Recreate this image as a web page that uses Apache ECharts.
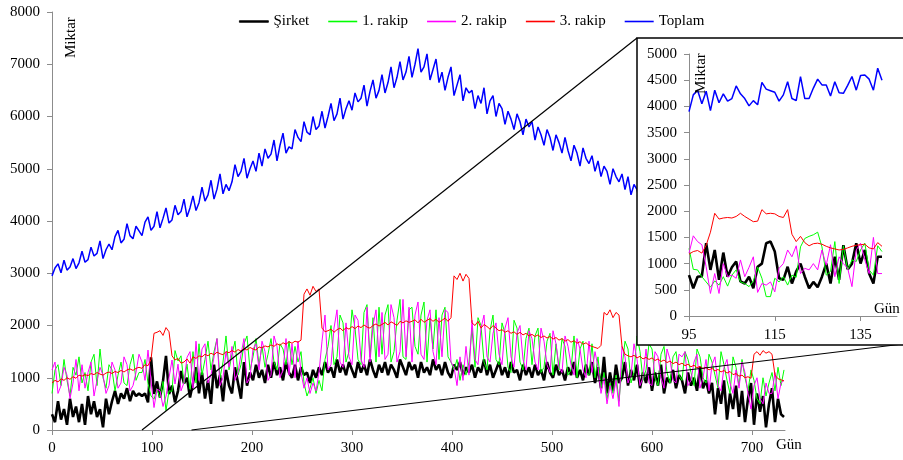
<!DOCTYPE html>
<html><head><meta charset="utf-8">
<script src="https://cdn.jsdelivr.net/npm/echarts@6/dist/echarts.min.js"></script>
<style>html,body{margin:0;padding:0;background:#fff}#c{width:903px;height:460px}</style>
</head><body><div id="c"></div>
<script>
// ---------- names ----------
const seriesNames = ['Şirket', '1. rakip', '2. rakip', '3. rakip', 'Toplam'];
const axisNameY = 'Miktar';
const axisNameX = 'Gün';

// ---------- main chart: one value every 3 days, day 0 .. 732 ----------
const mainStartDay = 0;
const mainStepDays = 3;

const sirket = [
 300,150,550,200,400,100,600,250,450,150,
 500,100,650,300,550,250,400,50,600,300,
 550,750,500,700,600,800,550,750,650,700,
 650,700,530,1390,690,930,620,940,1420,690,
 850,530,750,1130,890,1000,620,900,1200,700,
 1100,600,950,500,1250,800,1050,550,1150,850,
 700,1200,900,600,1300,850,1100,950,1250,1000,
 1150,900,1250,1000,1300,1050,1200,950,1300,1100,
 1000,1250,950,1200,1050,1100,900,1150,1000,1200,
 1050,1300,1100,1200,1000,1350,1100,1250,1050,1300,
 1150,1000,1300,1100,1250,1050,1350,1150,1000,1250,
 1100,1300,1050,1250,1150,1000,1350,1200,1050,1300,
 1150,1250,1000,1300,1100,1200,1050,1350,1150,1250,
 1050,1300,1100,1000,1250,1150,1300,1050,1200,1100,
 1250,1000,1200,1100,1350,1050,1250,1000,1150,1300,
 1050,1200,1000,1300,1100,1150,950,1250,1050,1200,
 1000,1250,1050,1150,950,1300,1100,1000,1250,1050,
 1150,950,1200,1050,1300,1000,1150,950,1250,1050,
 1300,900,1200,800,1400,700,1100,750,1250,900,
 1000,1300,850,1150,950,1250,800,1100,900,1200,
 750,1100,850,1250,700,1000,900,1150,800,1050,
 950,700,1100,850,1000,750,1200,800,950,700,
 900,300,800,500,950,200,700,400,850,250,
 750,150,600,900,100,700,350,650,50,500,
 800,150,600,300,250
];
const rakip1 = [
 700,1150,1250,850,1350,950,650,1200,1050,1400,
 900,1100,750,1300,1450,850,1550,1000,800,1250,
 1150,750,1050,1300,900,850,1250,1450,950,1100,
 1100,1350,890,650,590,780,620,930,370,750,
 740,1520,1320,1420,880,1260,780,1500,900,1650,
 1050,1350,1700,1150,1500,1750,1000,1300,1800,1150,
 1450,1700,1050,1250,1650,1800,1150,1400,1750,1250,
 1600,1200,1450,1750,1300,1150,1650,1550,1250,1700,
 1250,1600,1300,1500,900,650,800,1000,700,950,
 750,1350,1600,2000,1250,1400,2200,2050,1300,1500,
 2300,1950,1350,1250,2250,2400,1400,2150,1300,2350,
 1450,2200,2400,1300,1500,2100,2500,1400,1350,2300,
 2350,1600,1450,2200,2450,1300,2150,1550,2300,1350,
 2200,2350,1400,1300,1150,1350,950,1250,1050,1300,
 1950,1200,2150,2000,1300,1150,1900,2200,1350,1250,
 2050,1850,1200,1100,2100,1950,1300,1150,1750,1950,
 1250,1800,1950,1100,1200,1700,1850,1050,1650,1150,
 1750,1600,1050,1150,1800,1000,1550,1700,1100,1050,
 1650,1000,1400,800,1100,600,900,700,1050,550,
 1200,1700,1550,900,1100,1800,1500,950,1150,1650,
 1550,1000,850,1450,1600,1100,900,1400,1500,1050,
 950,1500,1350,1100,850,1550,1400,1000,900,1450,
 1300,1050,800,1500,1250,950,700,1400,1200,850,
 1350,1000,750,1150,950,600,500,1000,650,900,
 1100,750,1200,850,1150
];
const rakip2 = [
 1150,1300,700,850,1200,1050,600,900,1350,750,
 1250,800,1100,1300,650,950,1200,1050,700,850,
 1300,1150,800,900,1400,1250,750,850,1100,1450,
 1300,950,1530,940,430,780,750,450,650,1000,
 1340,880,1260,750,910,1390,1500,800,1700,950,
 1550,1650,900,1050,1400,1750,850,1000,1500,1200,
 1600,950,1100,1450,1750,900,1000,1550,1650,1150,
 1700,1500,950,1050,1800,1600,1000,1150,1750,1050,
 1650,1000,1700,1100,800,1000,700,900,750,1100,
 1700,2200,1150,1250,1950,2300,1300,1200,2050,1400,
 1250,2200,2100,1350,1200,2350,1300,2000,2300,1400,
 2250,1350,1450,2400,2150,1300,1500,2500,1400,2350,
 1300,2200,2450,1450,1350,2100,2300,1500,1250,2150,
 1400,2300,2250,1300,1200,850,1400,950,1600,1050,
 2100,1350,1250,1950,2200,1400,1300,1850,2050,1450,
 1250,1950,2150,1400,1200,1850,2000,1350,1150,1900,
 1750,1300,1150,1950,1700,1250,1100,1900,1650,1200,
 1100,1800,1600,1250,1050,1750,1550,1150,1000,1700,
 1100,1500,1200,700,1000,500,850,600,950,450,
 1600,1400,900,1050,1650,1350,850,1000,1550,900,
 850,1500,1400,1000,800,1550,1350,950,900,1450,
 1400,1500,850,950,1300,1450,800,1000,1350,750,
 1250,1400,850,750,1200,1350,900,700,1150,800,
 1300,1100,700,400,850,1000,600,500,900,700,
 700,1100,600,900,950
];
const rakip3 = [
 900,950,920,980,950,1000,970,1020,990,1050,
 1030,1060,1040,1080,1060,1100,1070,1050,1090,1110,
 1080,1120,1100,1140,1110,1150,1170,1140,1180,1200,
 1180,1250,1230,1350,1850,1870,1900,1810,1960,1880,
 1420,1340,1370,1280,1300,1360,1280,1400,1370,1420,
 1400,1450,1420,1470,1440,1490,1460,1440,1500,1480,
 1520,1490,1540,1510,1560,1530,1580,1550,1530,1590,
 1570,1610,1590,1630,1600,1650,1620,1670,1640,1690,
 1660,1700,1680,1720,2600,2700,2580,2750,2650,2700,
 1950,1880,1900,1930,1870,1920,1950,1900,1960,1930,
 1980,1940,1990,1960,2010,1970,1950,2000,2030,1990,
 2020,2060,2010,2070,2040,2000,2080,2050,2090,2060,
 2080,2110,2050,2120,2060,2100,2130,2080,2120,2060,
 2100,2140,2080,2150,2950,2880,3000,2850,2980,2900,
 2050,2000,2080,1950,2020,1980,1930,2000,1950,1900,
 1920,1870,1900,1850,1880,1830,1870,1820,1850,1800,
 1830,1790,1820,1770,1800,1760,1790,1740,1770,1720,
 1750,1700,1730,1680,1710,1660,1690,1640,1670,1620,
 1600,1580,1560,1620,2250,2200,2300,2150,2250,2200,
 1600,1450,1420,1400,1430,1380,1410,1360,1390,1350,
 1380,1330,1360,1310,1340,1290,1320,1270,1300,1250,
 1280,1230,1260,1210,1240,1190,1220,1170,1200,1150,
 1180,1130,1160,1110,1140,1090,1120,1060,1080,1030,
 1050,1000,1020,990,1450,1500,1430,1520,1470,1500,
 1450,1050,980,960,940
];
const toplam = [
 2950,3100,3180,3010,3250,3060,3120,3280,3090,3200,
 3420,3210,3260,3500,3330,3380,3620,3280,3450,3560,
 3450,3700,3820,3580,3650,3950,3720,3660,3900,3810,
 3720,3980,4080,3820,3900,4180,3870,4050,4250,3960,
 4020,4300,4120,4180,4420,4080,4250,4480,4200,4350,
 4650,4380,4500,4780,4420,4610,4900,4520,4700,4580,
 4750,5080,4850,4950,5200,4820,5000,5150,4950,5300,
 5050,5380,5200,5280,5550,5150,5450,5680,5300,5420,
 5380,5750,5600,5520,5900,5700,5650,6000,5750,5820,
 6100,5780,6000,6250,5920,6050,6350,5950,6150,6300,
 6120,6450,6280,6350,6600,6200,6480,6700,6350,6500,
 6800,6450,6650,6950,6550,6750,7050,6700,6850,7150,
 6750,7000,7300,6850,6950,7200,6700,6900,7100,6650,
 6850,6500,6750,6950,6400,6600,6800,6300,6550,6450,
 6500,6150,6400,6250,6550,6050,6300,6400,6000,6250,
 6150,5850,6100,5950,5750,6050,5900,5650,5950,5800,
 5900,5550,5800,5650,5450,5750,5600,5350,5650,5500,
 5300,5600,5350,5150,5450,5300,5050,5400,5200,5100,
 5250,4950,5150,4850,5050,4950,4700,5000,4850,4750,
 4900,4600,4850,4500,4700,4600,4350,4650,4500,4400,
 4350,4550,4300,4450,4200,4400,4150,4300,4100,4250,
 4050,4250,4000,4150,3950,4100,3850,4050,3800,3950,
 3750,3950,3700,3850,3650,3800,3550,3750,3500,3650,
 3450,3650,3400,3600,3350,3550,3300,3500,3250,3450,
 3200,3400,3150,3350,3100
];

// ---------- inset: daily values, day 95 .. 140 ----------
const insetStartDay = 95;
const insetSirket = [780,530,750,760,1390,880,1260,690,1210,750,930,1040,660,620,750,530,940,1000,1390,1420,1230,720,690,940,620,850,1000,750,530,650,550,750,1000,620,1130,690,1350,890,1000,1390,1000,1260,810,620,1130,1130];
const insetRakip1 = [1290,890,880,750,650,550,670,590,750,570,780,880,650,620,560,670,930,720,370,370,720,650,750,590,780,740,1320,1480,1520,1550,1600,1320,780,850,1420,620,1340,880,1070,1040,1260,1390,880,780,1340,1230];
const insetRakip2 = [1200,1530,1420,1360,940,430,810,430,1000,750,780,720,1070,750,930,1130,450,620,590,650,460,910,1000,1260,1130,1340,810,910,880,1000,880,1260,970,1360,750,1130,1000,910,560,1260,1390,1070,810,1500,810,810];
const insetRakip3 = [1180,1230,1250,1200,1350,1600,1960,1850,1870,1880,1870,1900,1960,1900,1850,1800,1810,2030,1950,1960,1950,1900,1880,2030,1560,1420,1520,1400,1340,1380,1390,1370,1330,1300,1280,1260,1270,1300,1330,1350,1360,1370,1300,1280,1400,1330];
const insetToplam = [3900,4220,4310,4050,4290,3920,4310,4070,4240,4100,4150,4390,4240,4150,4010,4110,4030,4460,4330,4300,4270,4100,4220,4470,4150,4110,4570,4150,4150,4350,4520,4410,4410,4200,4470,4260,4250,4400,4570,4310,4590,4600,4520,4310,4730,4500];

// ---------- ticks ----------
const mainXTicks = [0,100,200,300,400,500,600,700];
const mainYMax = 8000, mainYStep = 1000;
const insetXTicks = [95,115,135];
const insetYMax = 5000, insetYStep = 500;
const zoomFromDay = 90, zoomToDay = 139.5;

// ---------- styles ----------
const F = "'Liberation Serif','Times New Roman',serif";
const colors = ['#000000', '#00ff00', '#ff00ff', '#ff0000', '#0000ff'];
const widths = [2.6, 1, 1, 1, 1.5];
const AX = '#8c8c8c';

function pairs(arr, start, step) { return arr.map((v, i) => [start + i * step, v]); }

const mainData = [sirket, rakip1, rakip2, rakip3, toplam];
const insetData = [insetSirket, insetRakip1, insetRakip2, insetRakip3, insetToplam];

const chart = echarts.init(document.getElementById('c'), null, {renderer: 'canvas'});

const series = [];
mainData.forEach((arr, k) => series.push({
  name: seriesNames[k], type: 'line', xAxisIndex: 0, yAxisIndex: 0,
  data: pairs(arr, mainStartDay, mainStepDays), symbol: 'none', z: 2,
  lineStyle: {color: colors[k], width: widths[k]}, itemStyle: {color: colors[k]},
  animation: false
}));
insetData.forEach((arr, k) => series.push({
  name: seriesNames[k], type: 'line', xAxisIndex: 1, yAxisIndex: 1,
  data: pairs(arr, insetStartDay, 1), symbol: 'none', z: 8,
  lineStyle: {color: colors[k], width: widths[k]}, itemStyle: {color: colors[k]},
  animation: false
}));

const plain = v => String(v);
const axisCommon = {
  axisLine: {show: true, onZero: false, lineStyle: {color: AX, width: 1}},
  axisTick: {show: true, length: 5, lineStyle: {color: AX}},
  splitLine: {show: false},
};

chart.setOption({
  animation: false,
  backgroundColor: '#fff',
  textStyle: {fontFamily: F},
  legend: {
    data: seriesNames.map((n, k) => ({name: n, itemStyle: {color: colors[k], borderColor: colors[k], borderWidth: k === 0 ? 0.8 : 0}})),
    icon: 'rect', left: 234, top: 9, itemWidth: 29, itemHeight: 1.6, itemGap: 19,
    textStyle: {fontFamily: F, fontSize: 15, color: '#000'}
  },
  grid: [
    {left: 52, top: 12, right: 118, bottom: 30},
    {left: 689, top: 54, right: 6, bottom: 144, z: 6}
  ],
  xAxis: [
    Object.assign({}, axisCommon, {
      type: 'value', gridIndex: 0, min: 0, max: 733,
      axisTick: {show: true, length: 5, lineStyle: {color: AX}, customValues: mainXTicks},
      axisLabel: {customValues: mainXTicks, formatter: plain, color: '#000', fontFamily: F, fontSize: 15, margin: 11}
    }),
    Object.assign({}, axisCommon, {
      type: 'value', gridIndex: 1, min: insetStartDay, max: 143.5, z: 7,
      axisTick: {show: true, length: 5, lineStyle: {color: AX}, customValues: insetXTicks},
      axisLabel: {customValues: insetXTicks, formatter: plain, color: '#000', fontFamily: F, fontSize: 15, margin: 12}
    })
  ],
  yAxis: [
    Object.assign({}, axisCommon, {
      type: 'value', gridIndex: 0, min: 0, max: mainYMax, interval: mainYStep,
      axisLabel: {formatter: plain, color: '#000', fontFamily: F, fontSize: 15, margin: 12}
    }),
    Object.assign({}, axisCommon, {
      type: 'value', gridIndex: 1, min: 0, max: insetYMax, interval: insetYStep, z: 7,
      axisLabel: {formatter: plain, color: '#000', fontFamily: F, fontSize: 15, margin: 12}
    })
  ],
  series: series
});

function drawDecor() {
  const p1 = chart.convertToPixel({xAxisIndex: 0, yAxisIndex: 0}, [zoomFromDay, 0]);
  const p2 = chart.convertToPixel({xAxisIndex: 0, yAxisIndex: 0}, [zoomToDay, 0]);
  const boxL = 637, boxT = 38, boxB = 345, boxR = 910;
  chart.setOption({
    graphic: [
      {type: 'line', z: 3, shape: {x1: p1[0], y1: p1[1], x2: boxL, y2: boxT}, style: {stroke: '#000', lineWidth: 1.2}},
      {type: 'line', z: 3, shape: {x1: p2[0], y1: p2[1], x2: 903, y2: boxB - 1}, style: {stroke: '#000', lineWidth: 1.2}},
      {type: 'rect', z: 5, shape: {x: boxL, y: boxT, width: boxR - boxL, height: boxB - boxT}, style: {fill: '#fff', stroke: '#000', lineWidth: 1.5}},
      {type: 'text', z: 9, x: 64, y: 58, rotation: Math.PI / 2, style: {text: axisNameY, font: "15px " + F, fill: '#000', textAlign: 'left', textVerticalAlign: 'top'}},
      {type: 'text', z: 9, x: 776, y: 438, style: {text: axisNameX, font: "15px " + F, fill: '#000'}},
      {type: 'text', z: 9, x: 694, y: 94, rotation: Math.PI / 2, style: {text: axisNameY, font: "15px " + F, fill: '#000', textAlign: 'left', textVerticalAlign: 'top'}},
      {type: 'text', z: 9, x: 874, y: 302, style: {text: axisNameX, font: "15px " + F, fill: '#000'}}
    ]
  });
}
drawDecor();
</script>
</body></html>
